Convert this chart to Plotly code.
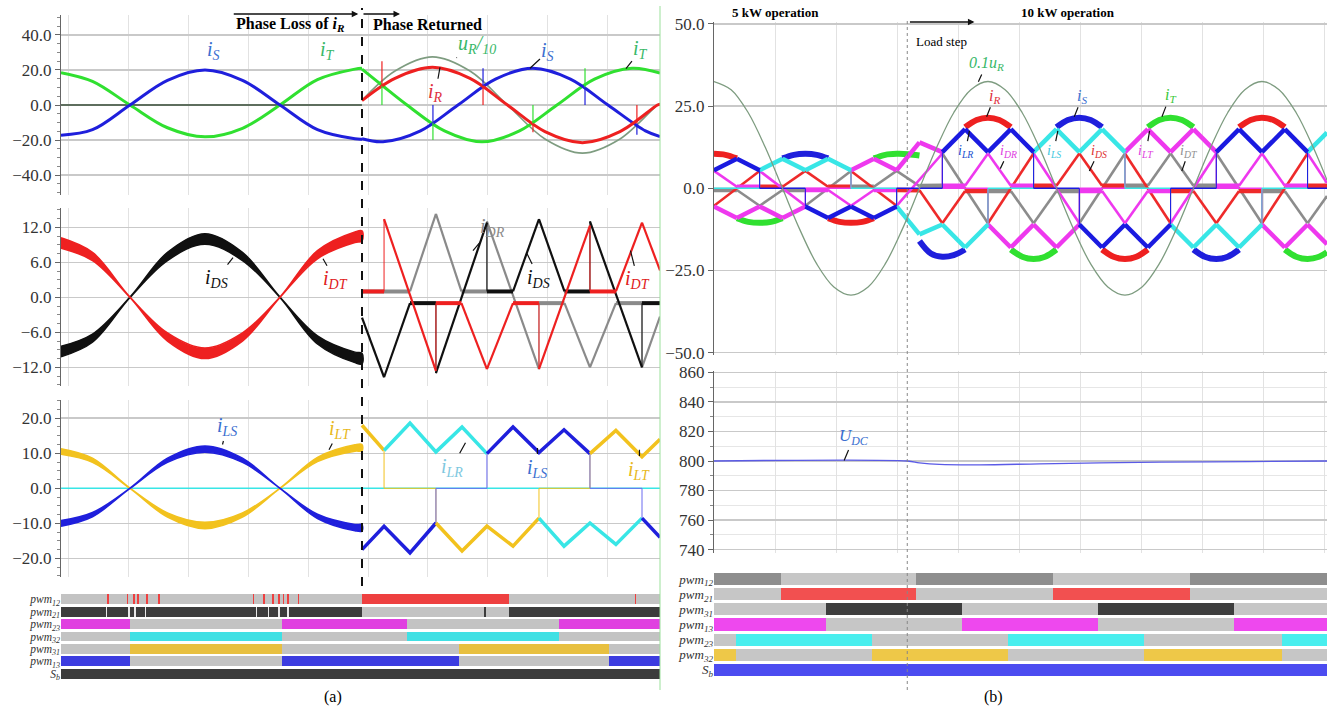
import plotly.graph_objects as go

W, H = 1332, 711
SERIF = "Liberation Serif"

def py(p):
    return 1 - p / H

def pxx(p):
    return p / W

# ================= Panel (a) data (time in ms) =================
T_FAULT = 19.6
TA_RANGE = [-0.47, 39.47]

# a1 : grid currents
t_pre = [-0.47, 1.63, 4.13, 6.63, 9.13, 11.63, 14.13, 16.63, 19.13, 19.6]
iS_pre = [-17.3, -14.1, 0.0, 14.1, 20.0, 14.1, 0.0, -14.1, -19.3, -19.5]
iT_pre = [18.5, 13.5, 0.0, -13.0, -18.2, -13.3, 0.0, 14.5, 20.5, 21.0]
t_R_loss = [-0.47, 19.6]
iR_loss = [0.0, 0.0]

t_R_post = [19.6, 21.8, 24.3, 26.8, 29.3, 31.8, 34.3, 36.8, 39.3, 39.47]
iR_post = [2.5, 15.2, 21.5, 15.2, 0.0, -15.2, -21.5, -15.2, 0.0, 0.5]
uR10_post = [2.6, 19.4, 27.5, 19.4, 0.0, -19.4, -27.5, -19.4, 0.0, 0.7]
t_S_post = [19.6, 21.0, 23.5, 26.0, 28.5, 31.0, 33.5, 36.0, 38.5, 39.47]
iS_post = [-19.3, -21.0, -14.8, 0.0, 14.8, 21.0, 14.8, 0.0, -14.8, -18.0]
t_T_post = [19.6, 20.93, 22.6, 25.1, 27.6, 30.1, 32.6, 35.1, 37.6, 39.47]
iT_post = [20.5, 11.3, 0.0, -14.8, -21.0, -14.8, 0.0, 14.8, 21.0, 18.3]

spk_R = [(20.93, 11.0, 25.0), (27.67, 0.0, 11.0), (31.0, -10.5, -15.5), (37.93, 0.0, -10.5)]
spk_T = [(20.93, 0.0, 11.0), (24.33, -10.0, -20.0), (31.0, 0.0, -10.5), (34.47, 10.0, 21.0)]
spk_S = [(24.33, 0.0, -10.0), (27.67, 11.0, 21.0), (34.47, 0.0, 10.0), (37.93, -10.5, -17.0)]

# a2 : diode currents
iDT_pre = [9.3, 7.0, 0.0, -6.8, -9.6, -6.8, 0.0, 7.3, 10.3, 10.5]
iDS_pre = [-9.3, -7.0, 0.0, 7.0, 10.0, 7.0, 0.0, -7.3, -10.3, -10.5]
band_D = [0.9, 0.7, 0.05, 0.7, 0.9, 0.7, 0.05, 0.7, 0.9, 0.9]

t_DR_post = [19.6, 22.8, 24.53, 26.23, 27.93, 27.93, 31.4, 31.4, 33.1, 34.8, 36.53, 38.27, 38.27, 39.47]
iDR_post = [1.0, 1.0, 14.3, 1.0, 1.0, 13.0, -12.3, -1.0, -1.0, -12.0, -1.0, -1.0, -12.0, -3.3]
t_DS_post = [19.6, 21.07, 22.8, 24.53, 24.53, 27.93, 27.93, 29.67, 31.4, 33.1, 34.8, 34.8, 38.27, 38.27,
             39.47]
iDS_post = [-3.5, -13.7, -1.0, -1.0, -13.0, 12.8, 1.0, 1.0, 13.4, 1.0, 1.0, 13.0, -12.0, -1.0, -1.0]
t_DT_post = [19.6, 21.07, 21.07, 24.53, 24.53, 26.23, 27.93, 29.67, 31.4, 31.4, 34.8, 34.8, 36.53, 38.27,
             39.47]
iDT_post = [1.0, 1.0, 13.4, -12.6, -1.0, -1.0, -12.3, -1.0, -1.0, -12.3, 12.3, 1.0, 1.0, 12.8, 4.6]

# a3 : inductor currents
iLT_pre = [10.5, 8.0, 0.0, -7.6, -10.6, -7.6, 0.0, 8.2, 11.5, 11.6]
iLS_pre = [-10.0, -7.5, 0.0, 8.0, 11.2, 8.0, 0.0, -8.0, -11.2, -11.3]
band_L = [0.8, 0.6, 0.05, 0.6, 0.9, 0.6, 0.05, 0.6, 0.9, 0.9]
t_LR_zero = [-0.47, 39.47]
iLR_zero = [0.0, 0.0]

zig_a = [  # (times, values, colour key)
    ([19.6, 21.07], [18.0, 10.8], "y"),
    ([21.07, 22.8, 24.53, 26.27, 27.93], [10.8, 18.6, 10.4, 17.5, 9.9], "c"),
    ([27.93, 29.67, 31.4, 33.07, 34.8], [9.9, 17.5, 10.2, 16.7, 9.9], "b"),
    ([34.8, 36.53, 38.27, 39.47], [9.9, 16.5, 9.0, 14.0], "y"),
    ([19.6, 21.07, 22.8, 24.53], [-17.5, -10.8, -18.4, -9.9], "b"),
    ([24.53, 26.27, 27.93, 29.67, 31.4], [-9.9, -17.9, -10.8, -16.5, -8.5], "y"),
    ([31.4, 33.07, 34.8, 36.53, 38.27], [-8.5, -16.5, -9.9, -16.0, -8.5], "c"),
    ([38.27, 39.47], [-8.5, -14.0], "b"),
]
tr_LT_t = [21.07, 21.07, 24.53, 24.53, None, 31.4, 31.4, 34.8, 34.8]
tr_LT_v = [10.8, 0.0, 0.0, -9.9, None, -8.5, 0.0, 0.0, 9.9]
tr_LS_t = [24.53, 24.53, 27.93, 27.93, None, 34.8, 34.8, 38.27, 38.27]
tr_LS_v = [-9.9, 0.0, 0.0, 9.9, None, 9.9, 0.0, 0.0, -8.5]

pwm_a_rows = ["<i>pwm<sub>12</sub></i>", "<i>pwm<sub>21</sub></i>", "<i>pwm<sub>23</sub></i>",
              "<i>pwm<sub>32</sub></i>", "<i>pwm<sub>31</sub></i>", "<i>pwm<sub>13</sub></i>",
              "<i>S<sub>b</sub></i>"]
pwm_a_segments = [
    [(-0.47, 19.6, "g"), (19.6, 29.4, "r"), (29.4, 39.47, "g"),
     (2.6, 2.7, "r"), (3.9, 4.0, "r"), (4.3, 4.45, "r"), (4.6, 4.7, "r"), (5.2, 5.3, "r"), (6.0, 6.1, "r"),
     (12.3, 12.4, "r"), (13.0, 13.1, "r"), (13.6, 13.7, "r"), (14.0, 14.15, "r"), (14.3, 14.4, "r"),
     (14.6, 14.7, "r"), (15.3, 15.4, "r"), (37.8, 37.9, "r")],
    [(-0.47, 19.6, "k"), (19.6, 29.4, "g"), (29.4, 39.47, "k"),
     (2.5, 2.6, "w"), (4.0, 4.1, "w"), (4.4, 4.5, "w"), (5.1, 5.2, "w"), (12.5, 12.6, "w"),
     (13.3, 13.4, "w"), (14.0, 14.1, "w"), (14.6, 14.7, "w"), (27.75, 27.85, "k")],
    [(-0.47, 4.13, "m"), (4.13, 14.27, "g"), (14.27, 22.6, "m"), (22.6, 32.73, "g"), (32.73, 39.47, "m")],
    [(-0.47, 4.13, "g"), (4.13, 14.27, "c"), (14.27, 22.6, "g"), (22.6, 32.73, "c"), (32.73, 39.47, "g")],
    [(-0.47, 4.13, "g"), (4.13, 14.27, "y"), (14.27, 26.07, "g"), (26.07, 36.07, "y"), (36.07, 39.47, "g")],
    [(-0.47, 4.13, "b"), (4.13, 14.27, "g"), (14.27, 26.07, "b"), (26.07, 36.07, "g"), (36.07, 39.47, "b")],
    [(-0.47, 39.47, "k")],
]

# ================= Panel (b) data (time in ms) =================
TB_RANGE = [0.0, 44.75]
T_STEP = 14.11
t_uR = [0.0, 1.25, 2.5, 3.75, 5.0, 6.25, 7.5, 8.75, 10.0, 11.25, 12.5, 13.75, 15.0, 16.25, 17.5, 18.75,
        20.0, 21.25, 22.5, 23.75, 25.0, 26.25, 27.5, 28.75, 30.0, 31.25, 32.5, 33.75, 35.0, 36.25, 37.5,
        38.75, 40.0, 41.25, 42.5, 43.75, 44.75]
uR01 = [32.5, 30.0, 23.0, 12.4, 0.0, -12.4, -23.0, -30.0, -32.5, -30.0, -23.0, -12.4, 0.0, 12.4, 23.0, 30.0,
        32.5, 30.0, 23.0, 12.4, 0.0, -12.4, -23.0, -30.0, -32.5, -30.0, -23.0, -12.4, 0.0, 12.4, 23.0,
        30.0, 32.5, 30.0, 23.0, 12.4, 2.5]

iLR_t = [0, 1.67, 3.33, 3.33, 6.67, 6.67, 8.33, 10, 11.67, 13.33, 13.33, 16.67, 16.67, 18.33, 20, 21.67,
         23.33, 23.33, 26.67, 26.67, 28.33, 30, 31.67, 33.33, 33.33, 36.67, 36.67, 38.33, 40, 41.67, 43.33,
         43.33, 44.75]
iLR_v = [5.5, 9, 5.5, 0, 0, -5.5, -9, -5.5, -9, -5.5, 0, 0, 11, 18, 11, 18, 11, 0, 0, -11, -18, -11, -18,
         -11, 0, 0, 11, 18, 11, 18, 11, 0, 0]
iLS_t = [0, 3.33, 3.33, 5, 6.67, 8.33, 10, 10, 13.33, 13.33, 15, 16.67, 18.33, 20, 20, 23.33, 23.33, 25,
         26.67, 28.33, 30, 30, 33.33, 33.33, 35, 36.67, 38.33, 40, 40, 43.33, 43.33, 44.75]
iLS_v = [0, 0, 5.5, 9, 5.5, 9, 5.5, 0, 0, -5.5, -14, -11, -18, -11, 0, 0, 11, 18, 11, 18, 11, 0, 0, -11,
         -18, -11, -18, -11, 0, 0, 11, 17]
iLT_t = [0, 1.67, 3.33, 5, 6.67, 6.67, 10, 10, 11.67, 13.33, 15, 16.67, 16.67, 20, 20, 21.67, 23.33, 25,
         26.67, 26.67, 30, 30, 31.67, 33.33, 35, 36.67, 36.67, 40, 40, 41.67, 43.33, 44.75]
iLT_v = [-5.5, -9, -5.5, -9, -5.5, 0, 0, 5.5, 9, 5.5, 14, 11, 0, 0, -11, -18, -11, -18, -11, 0, 0, 11, 18,
         11, 18, 11, 0, 0, -11, -18, -11, -17]

iDR_t = [0, 1.67, 3.33, 3.33, 6.67, 6.67, 8.33, 10, 11.67, 13.33, 13.33, 16.67, 16.67, 18.33, 20, 21.67,
         23.33, 23.33, 26.67, 26.67, 28.33, 30, 31.67, 33.33, 33.33, 36.67, 36.67, 38.33, 40, 41.67, 43.33,
         43.33, 44.75]
iDR_v = [5.3, 0.5, 0.5, 5.3, -5.3, -0.5, -0.5, -5.3, -0.5, -0.5, -5.3, 10.6, 0.8, 0.8, 10.6, 0.8, 0.8,
         10.6, -10.6, -0.8, -0.8, -10.6, -0.8, -0.8, -10.6, 10.6, 0.8, 0.8, 10.6, 0.8, 0.8, 10.6, 1.6]
iDS_t = [0, 3.33, 3.33, 5, 6.67, 8.33, 10, 10, 13.33, 13.33, 15, 16.67, 18.33, 20, 20, 23.33, 23.33, 25,
         26.67, 28.33, 30, 30, 33.33, 33.33, 35, 36.67, 38.33, 40, 40, 43.33, 43.33, 44.75]
iDS_v = [-5.3, 5.3, 0.5, 0.5, 5.3, 0.5, 0.5, 5.3, -5.3, -0.5, -0.6, -10.6, -0.8, -0.8, -10.6, 10.6, 0.8,
         0.8, 10.6, 0.8, 0.8, 10.6, -10.6, -0.8, -0.8, -10.6, -0.8, -0.8, -10.6, 10.6, 0.8, 0.8]
iDT_t = [0, 1.67, 3.33, 5, 6.67, 6.67, 10, 10, 11.67, 13.33, 15, 16.67, 16.67, 20, 20, 21.67, 23.33, 25,
         26.67, 26.67, 30, 30, 31.67, 33.33, 35, 36.67, 36.67, 40, 40, 41.67, 43.33, 44.75]
iDT_v = [-0.5, -0.5, -5.3, -0.5, -0.5, -5.3, 5.3, 0.5, 0.5, 5.3, 0.7, 0.8, 10.6, -10.6, -0.8, -0.8, -10.6,
         -0.8, -0.8, -10.6, 10.6, 0.8, 0.8, 10.6, 0.8, 0.8, 10.6, -10.6, -0.8, -0.8, -10.6, -2.3]

capR_t = [0, 0.83, 1.67, None, 8.33, 9.17, 10, 10.83, 11.67, None, 18.33, 19.17, 20, 20.83, 21.67, None,
          28.33, 29.17, 30, 30.83, 31.67, None, 38.33, 39.17, 40, 40.83, 41.67]
capR_v = [10.5, 10.2, 9.1, None, -9.1, -10.2, -10.5, -10.2, -9.1, None, 18.6, 20.8, 21.5, 20.8, 18.6, None,
          -18.6, -20.8, -21.5, -20.8, -18.6, None, 18.6, 20.8, 21.5, 20.8, 18.6]
capS_t = [5, 5.83, 6.67, 7.5, 8.33, None, 15, 15.83, 16.67, 17.5, 18.33, None, 25, 25.83, 26.67, 27.5, 28.33,
          None, 35, 35.83, 36.67, 37.5, 38.33]
capS_v = [9.1, 10.2, 10.5, 10.2, 9.1, None, -16.0, -19.8, -20.8, -20.3, -18.6, None, 18.6, 20.8, 21.5, 20.8,
          18.6, None, -18.6, -20.8, -21.5, -20.8, -18.6]
capT_t = [1.67, 2.5, 3.33, 4.17, 5, None, 11.67, 12.5, 13.33, 14.17, 15, None, 21.67, 22.5, 23.33, 24.17, 25,
          None, 31.67, 32.5, 33.33, 34.17, 35, None, 41.67, 42.5, 43.33, 44.17, 44.75]
capT_v = [-9.1, -10.2, -10.5, -10.2, -9.1, None, 9.1, 10.2, 10.5, 10.4, 10.0, None, -18.6, -20.8, -21.5,
          -20.8, -18.6, None, 18.6, 20.8, 21.5, 20.8, 18.6, None, -18.6, -20.8, -21.5, -20.8, -19.4]

t_udc = [0.0, 14.11, 14.99, 16.45, 19.38, 23.77, 28.15, 32.54, 39.12, 44.75]
udc = [800.0, 800.0, 798.8, 797.7, 797.4, 798.1, 798.7, 799.2, 799.6, 800.0]

pwm_b_rows = ["<i>pwm<sub>12</sub></i>", "<i>pwm<sub>21</sub></i>", "<i>pwm<sub>31</sub></i>",
              "<i>pwm<sub>13</sub></i>", "<i>pwm<sub>23</sub></i>", "<i>pwm<sub>32</sub></i>",
              "<i>S<sub>b</sub></i>"]
pwm_b_segments = [
    [(0, 4.9, "d"), (4.9, 14.77, "l"), (14.77, 24.75, "d"), (24.75, 34.74, "l"), (34.74, 44.75, "d")],
    [(0, 4.9, "l"), (4.9, 14.77, "r"), (14.77, 24.75, "l"), (24.75, 34.74, "r"), (34.74, 44.75, "l")],
    [(0, 8.19, "l"), (8.19, 18.14, "k"), (18.14, 28.04, "l"), (28.04, 37.95, "k"), (37.95, 44.75, "l")],
    [(0, 8.19, "m"), (8.19, 18.14, "l"), (18.14, 28.04, "m"), (28.04, 37.95, "l"), (37.95, 44.75, "m")],
    [(0, 1.61, "l"), (1.61, 11.55, "c"), (11.55, 21.43, "l"), (21.43, 31.37, "c"), (31.37, 41.43, "l"),
     (41.43, 44.75, "c")],
    [(0, 1.61, "y"), (1.61, 11.55, "l"), (11.55, 21.43, "y"), (21.43, 31.37, "l"), (31.37, 41.43, "y"),
     (41.43, 44.75, "l")],
    [(0, 44.75, "b")],
]

# ================= styles =================
RED = "#ee2020"
BLUE = "#1f1fdc"
GREEN = "#30e030"
BLACK = "#101010"
GRAY = "#8a8a8a"
YEL = "#f2c21e"
CYAN = "#38e6e6"
MAG = "#ee38ee"
UCOL = "#7e9c80"
COLK = {"y": YEL, "c": CYAN, "b": BLUE}

PWM_A_COL = {"g": "#c3c3c3", "r": "#ee4040", "k": "#3c3c3c", "w": "#e8e8e8", "m": "#e040e0",
             "c": "#40e0e4", "y": "#e8c040", "b": "#3c3ce0"}
PWM_B_COL = {"d": "#8e8e8e", "l": "#c6c6c6", "r": "#f25050", "k": "#3e3e3e", "m": "#ee48ee",
             "c": "#48eeee", "y": "#eec848", "b": "#4c4cf0"}

fig = go.Figure()

def add_line(x, y, color, width, xa, ya, shape="linear", dash=None):
    fig.add_trace(go.Scatter(x=x, y=y, mode="lines", xaxis=xa, yaxis=ya, hoverinfo="skip",
                             line=dict(color=color, width=width, shape=shape, dash=dash),
                             showlegend=False, connectgaps=False))

def add_band(t, centre, half, color, xa, ya):
    hi = [c + h for c, h in zip(centre, half)]
    lo = [c - h for c, h in zip(centre, half)]
    fig.add_trace(go.Scatter(x=list(t) + list(t)[::-1], y=hi + lo[::-1], mode="lines",
                             fill="toself", fillcolor=color, xaxis=xa, yaxis=ya, hoverinfo="skip",
                             line=dict(color=color, width=1.5, shape="spline"), showlegend=False))

def add_spikes(spk, color, xa, ya):
    xs, ys = [], []
    for t, a, b in spk:
        xs += [t, t, None]
        ys += [a, b, None]
    add_line(xs, ys, color, 1.2, xa, ya)

def add_segmented(t, v, color, w_flat, w_slope, w_vert, xa, ya):
    """split a polyline into flat parts, ramps and vertical jumps, each with its own stroke"""
    parts = {"flat": ([], []), "slope": ([], []), "vert": ([], [])}
    for i in range(len(t) - 1):
        t0, t1, v0, v1 = t[i], t[i + 1], v[i], v[i + 1]
        if t0 == t1:
            key = "vert"
        elif abs(v1 - v0) < 0.35:
            key = "flat"
        else:
            key = "slope"
        parts[key][0].extend([t0, t1, None])
        parts[key][1].extend([v0, v1, None])
    for key, w in (("vert", w_vert), ("flat", w_flat), ("slope", w_slope)):
        if parts[key][0]:
            add_line(parts[key][0], parts[key][1], color, w, xa, ya)

# ---- a1
add_line(t_R_loss, iR_loss, "#5e6e5e", 1.8, "x", "y")
add_line(t_pre, iT_pre, GREEN, 3, "x", "y", "spline")
add_line(t_pre, iS_pre, BLUE, 3, "x", "y", "spline")
add_line(t_R_post, uR10_post, UCOL, 1.6, "x", "y", "spline")
add_line(t_T_post, iT_post, GREEN, 3, "x", "y", "spline")
add_line(t_S_post, iS_post, BLUE, 3, "x", "y", "spline")
add_line(t_R_post, iR_post, RED, 3, "x", "y", "spline")
add_spikes(spk_R, RED, "x", "y")
add_spikes(spk_T, GREEN, "x", "y")
add_spikes(spk_S, BLUE, "x", "y")

# ---- a2
add_band(t_pre, iDS_pre, band_D, BLACK, "x2", "y2")
add_band(t_pre, iDT_pre, band_D, RED, "x2", "y2")
add_segmented(t_DR_post, iDR_post, GRAY, 4, 2.2, 1, "x2", "y2")
add_segmented(t_DS_post, iDS_post, BLACK, 4, 2.2, 1, "x2", "y2")
add_segmented(t_DT_post, iDT_post, RED, 4, 2.2, 1, "x2", "y2")

# ---- a3
add_line(t_LR_zero, iLR_zero, CYAN, 1.6, "x3", "y3")
add_band(t_pre, iLT_pre, band_L, YEL, "x3", "y3")
add_band(t_pre, iLS_pre, band_L, BLUE, "x3", "y3")
add_line(tr_LT_t, tr_LT_v, YEL, 1.0, "x3", "y3")
add_line(tr_LS_t, tr_LS_v, "#6a6af0", 1.0, "x3", "y3")
for tt, vv, ck in zig_a:
    add_line(tt, vv, COLK[ck], 3.5, "x3", "y3")

# ---- PWM bars
def add_pwm(segs, cmap, xa, ya):
    groups = {}
    for r, seglist in enumerate(segs):
        for t0, t1, ck in seglist:
            g = groups.setdefault(ck, ([], [], []))
            g[0].append(r); g[1].append(t0); g[2].append(t1 - t0)
    for ck in [k for k in cmap if k in groups]:
        ys, bases, lens = groups[ck]
        fig.add_trace(go.Bar(y=ys, base=bases, x=lens, orientation="h", xaxis=xa, yaxis=ya,
                             marker=dict(color=cmap[ck], line=dict(width=0)), width=0.8,
                             hoverinfo="skip", showlegend=False))

def add_pwm_ordered(segs, cmap, xa, ya):
    wide = [[s for s in row if (s[1] - s[0]) > 0.5] for row in segs]
    narrow = [[s for s in row if (s[1] - s[0]) <= 0.5] for row in segs]
    add_pwm(wide, cmap, xa, ya)
    add_pwm(narrow, cmap, xa, ya)

add_pwm_ordered(pwm_a_segments, PWM_A_COL, "x4", "y4")

# ---- b1
add_line(capR_t, capR_v, RED, 6, "x5", "y5", "spline")
add_line(capS_t, capS_v, BLUE, 6, "x5", "y5", "spline")
add_line(capT_t, capT_v, GREEN, 6, "x5", "y5", "spline")
add_segmented(iDT_t, iDT_v, "#8c8c8c", 4.5, 2.6, 1, "x5", "y5")
add_segmented(iDS_t, iDS_v, "#ee2a2a", 4.5, 2.6, 1, "x5", "y5")
add_segmented(iDR_t, iDR_v, MAG, 4.5, 2.6, 1, "x5", "y5")
add_segmented(iLT_t, iLT_v, MAG, 1.5, 4.5, 1, "x5", "y5")
add_segmented(iLS_t, iLS_v, CYAN, 1.5, 4.5, 1, "x5", "y5")
add_segmented(iLR_t, iLR_v, "#1a1ae0", 1.5, 4.5, 1, "x5", "y5")
add_line(t_uR, uR01, UCOL, 1.3, "x5", "y5", "spline")

# ---- b2
add_line(t_udc, udc, "#5a5ae6", 1.3, "x6", "y6", "spline")

# ---- b PWM
add_pwm_ordered(pwm_b_segments, PWM_B_COL, "x7", "y7")

# ================= axes =================
TICKFONT = dict(family=SERIF, size=17, color="#333333")

def xax(dom, rng, dtick, anchor, grid=True):
    return dict(domain=dom, range=rng, dtick=dtick, tick0=0, anchor=anchor, showticklabels=False,
                ticks="", showline=False, zeroline=False, showgrid=grid, gridcolor="#e2e2e2",
                gridwidth=1, fixedrange=True, automargin=False)

def yax(dom, rng, dtick, fmt, minor, anchor, mgrid=False, mticks="outside"):
    return dict(domain=dom, range=rng, dtick=dtick, tick0=0, tickformat=fmt, anchor=anchor,
                showline=True, linecolor="#666666", linewidth=1, ticks="outside", ticklen=5,
                tickcolor="#666666", zeroline=False, showgrid=True, gridcolor="#c9c9c9",
                gridwidth=1.5, tickfont=TICKFONT, fixedrange=True, automargin=False,
                minor=dict(dtick=minor, ticks=mticks, ticklen=3, tickcolor="#888888",
                           showgrid=mgrid, gridcolor="#e6e6e6", gridwidth=1))

def pwm_yax(dom, rows, anchor, size):
    return dict(domain=dom, range=[6.6, -0.6], anchor=anchor, tickvals=list(range(7)),
                ticktext=rows, showline=False, ticks="", showgrid=False, zeroline=False,
                tickfont=dict(family=SERIF, size=size, color="#333333"), fixedrange=True,
                automargin=False)

AX = [pxx(61), pxx(660)]
BX = [pxx(714), pxx(1327)]

def dom(top, bottom):
    return [py(bottom), py(top)]

fig.update_layout(
    width=W, height=H, margin=dict(l=0, r=0, t=0, b=0, autoexpand=False), paper_bgcolor="white",
    plot_bgcolor="rgba(0,0,0,0)", barmode="overlay", bargap=0, showlegend=False,
    xaxis=xax(AX, TA_RANGE, 4, "y"),
    yaxis=yax(dom(15, 195), [-51.4, 51.4], 20, ".1f", 5, "x"),
    xaxis2=xax(AX, TA_RANGE, 4, "y2"),
    yaxis2=yax(dom(208, 386), [-15.2, 15.3], 6, ".1f", 1.5, "x2"),
    xaxis3=xax(AX, TA_RANGE, 4, "y3"),
    yaxis3=yax(dom(400, 577), [-25.3, 25.2], 10, ".1f", 2.5, "x3"),
    xaxis4=xax(AX, TA_RANGE, 4, "y4", grid=False),
    yaxis4=pwm_yax(dom(592, 681), pwm_a_rows, "x4", 11.5),
    xaxis5=xax(BX, TB_RANGE, 4.46, "y5"),
    yaxis5=yax(dom(22, 354.7), [-50.6, 50.6], 25, ".1f", 25, "x5", mticks=""),
    xaxis6=xax(BX, TB_RANGE, 4.46, "y6"),
    yaxis6=yax(dom(371, 552.5), [738, 861], 20, "d", 10, "x6", mgrid=True),
    xaxis7=xax(BX, TB_RANGE, 4.46, "y7", grid=False),
    yaxis7=pwm_yax(dom(570, 679), pwm_b_rows, "x7", 13),
)

# ================= reference lines =================
fig.add_shape(type="line", xref="x", x0=T_FAULT, x1=T_FAULT, yref="paper", y0=py(586), y1=py(8),
              line=dict(color="#111111", width=2, dash="dash"), layer="above")
fig.add_shape(type="line", xref="paper", x0=pxx(660), x1=pxx(660), yref="paper", y0=py(690), y1=py(6),
              line=dict(color="#9be09b", width=1), layer="above")
fig.add_shape(type="line", xref="x5", x0=T_STEP, x1=T_STEP, yref="paper", y0=py(690), y1=py(18),
              line=dict(color="#888888", width=1, dash="dot"), layer="above")

# ================= annotations =================
ann = []

def txt(x, y, s, size=15, color="black", bold=False):
    if bold:
        s = "<b>" + s + "</b>"
    ann.append(dict(x=x, y=y, xref="paper", yref="paper", text=s, showarrow=False,
                    xanchor="center", yanchor="middle",
                    font=dict(family=SERIF, size=size, color=color)))

def arrow(x_head, y_pix, dx, xref):
    ann.append(dict(x=x_head, y=py(y_pix), xref=xref, yref="paper", ax=-dx, ay=0,
                    axref="pixel", ayref="pixel", text="", showarrow=True, arrowhead=2,
                    arrowsize=1, arrowwidth=1.3, arrowcolor="#111111"))

def label(xt, yt, xp, yp, s, color, xa, ya, size=20):
    ann.append(dict(x=xp, y=yp, ax=xt, ay=yt, xref=xa, yref=ya, axref=xa, ayref=ya,
                    text="<i>" + s + "</i>", showarrow=True, arrowhead=0, arrowwidth=1.2,
                    arrowcolor="#111111", standoff=0, startstandoff=0,
                    font=dict(family=SERIF, size=size, color=color)))

def plain(xt, yt, s, color, xa, ya, size=20):
    ann.append(dict(x=xt, y=yt, xref=xa, yref=ya, text="<i>" + s + "</i>", showarrow=False,
                    xanchor="center", yanchor="middle",
                    font=dict(family=SERIF, size=size, color=color)))

# headers panel (a)
txt(pxx(290), py(25), "Phase Loss of <i>i<sub>R</sub></i>", size=16, bold=True)
txt(pxx(427), py(25), "Phase Returned", size=16, bold=True)
arrow(T_FAULT - 0.25, 14, 126, "x")
arrow((400 - 68) / 15, 14, 38, "x")

# labels a1
plain(9.67, 31.0, "i<sub>S</sub>", "#3b6fd0", "x", "y")
plain(17.3, 31.0, "i<sub>T</sub>", "#38b868", "x", "y")
label(27.3, 34.5, 25.9, 27.0, "u<sub>R</sub>/<sub>10</sub>", "#38b868", "x", "y")
label(32.0, 30.5, 30.8, 21.0, "i<sub>S</sub>", "#3b6fd0", "x", "y")
label(38.2, 31.5, 37.2, 20.8, "i<sub>T</sub>", "#38b868", "x", "y")
label(24.5, 7.0, 24.8, 21.5, "i<sub>R</sub>", "#e03040", "x", "y")

# labels a2
label(9.9, 3.2, 11.0, 6.8, "i<sub>DS</sub>", "#111111", "x2", "y2")
label(17.8, 3.0, 17.0, 6.6, "i<sub>DT</sub>", "#e02020", "x2", "y2")
label(28.3, 12.0, 27.0, 8.0, "i<sub>DR</sub>", "#8a8a8a", "x2", "y2")
label(31.4, 3.3, 30.6, 7.5, "i<sub>DS</sub>", "#111111", "x2", "y2")
label(38.0, 3.0, 37.5, 8.0, "i<sub>DT</sub>", "#e02020", "x2", "y2")

# labels a3
label(10.6, 17.5, 10.3, 12.5, "i<sub>LS</sub>", "#3b6fd0", "x3", "y3")
label(18.1, 16.8, 17.4, 11.0, "i<sub>LT</sub>", "#e8b820", "x3", "y3")
label(25.6, 6.0, 26.5, 13.0, "i<sub>LR</sub>", "#7fc8e0", "x3", "y3")
label(31.3, 5.8, 31.3, 11.5, "i<sub>LS</sub>", "#3b6fd0", "x3", "y3")
label(38.1, 5.2, 38.1, 11.0, "i<sub>LT</sub>", "#e8b820", "x3", "y3")

# headers panel (b)
txt(pxx(775), py(12), "5 kW operation", size=13, bold=True)
txt(pxx(1068), py(12), "10 kW operation", size=13, bold=True)
txt(pxx(941), py(42), "Load step", size=13)
arrow((975 - 715) / 13.675, 22, 66, "x5")

label(19.9, 38.0, 19.3, 32.4, "0.1u<sub>R</sub>", "#38b868", "x5", "y5", size=16)
label(20.5, 28.0, 19.9, 21.8, "i<sub>R</sub>", "#e03040", "x5", "y5", size=16)
label(26.9, 28.0, 26.3, 21.8, "i<sub>S</sub>", "#3b6fd0", "x5", "y5", size=16)
label(33.3, 28.2, 32.7, 21.8, "i<sub>T</sub>", "#38c838", "x5", "y5", size=16)
label(18.35, 11.3, 18.65, 17.5, "i<sub>LR</sub>", "#2050d0", "x5", "y5", size=14)
label(21.5, 11.3, 20.9, 6.0, "i<sub>DR</sub>", "#e040e0", "x5", "y5", size=14)
label(24.8, 11.3, 25.1, 17.5, "i<sub>LS</sub>", "#40c8e0", "x5", "y5", size=14)
label(28.1, 11.3, 27.4, 5.3, "i<sub>DS</sub>", "#e03030", "x5", "y5", size=14)
label(31.55, 11.3, 31.8, 17.5, "i<sub>LT</sub>", "#e040e0", "x5", "y5", size=14)
label(34.66, 11.3, 34.15, 5.3, "i<sub>DT</sub>", "#909090", "x5", "y5", size=14)

label(10.2, 816.0, 9.5, 800.3, "U<sub>DC</sub>", "#3b6fd0", "x6", "y6", size=17)

# captions
txt(pxx(333), py(697), "(a)", size=16)
txt(pxx(993), py(697), "(b)", size=16)

fig.update_layout(annotations=ann)

fig.write_html("out.html", include_plotlyjs=True, full_html=True,
               config={"displayModeBar": False, "staticPlot": True},
               post_script="document.body.style.margin='0';document.body.style.overflow='hidden';")
